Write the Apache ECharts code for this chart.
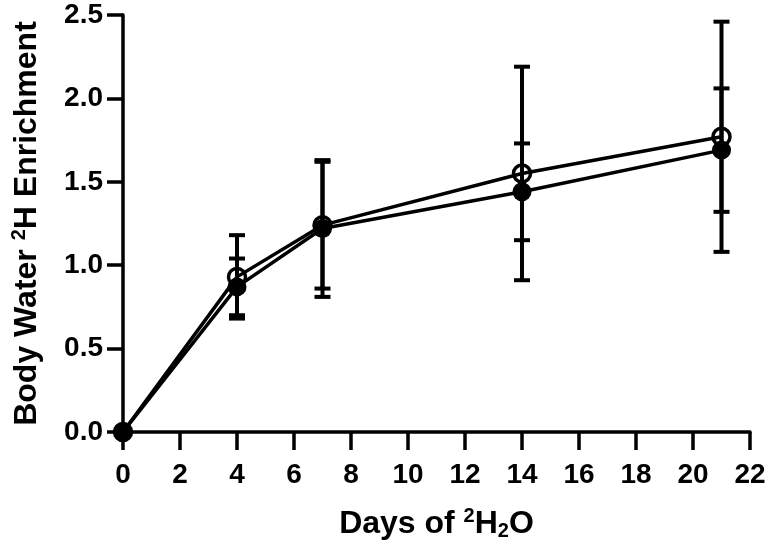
<!DOCTYPE html>
<html>
<head>
<meta charset="utf-8">
<script src="https://cdn.jsdelivr.net/npm/echarts@6/dist/echarts.min.js"></script>
<style>
  html, body { margin: 0; padding: 0; background: #fff; }
  #chart { width: 772px; height: 555px; }
</style>
</head>
<body>
<div id="chart"></div>
<script>
const days = [0, 4, 7, 14, 21]

// open circles
const openMean = [0, 0.93, 1.24, 1.55, 1.77]
const openErr = [0, 0.25, 0.38, 0.64, 0.69]

// filled circles
const filledMean = [0, 0.87, 1.22, 1.44, 1.69]
const filledErr = [0, 0.17, 0.41, 0.29, 0.37]

const xTicks = { min: 0, max: 22, interval: 2 }
const yTicks = { min: 0, max: 2.5, interval: 0.5 }

const FONT = 'Liberation Sans, Arial, sans-serif'

function toPoints(mean) {
  return days.map((d, i) => [d, mean[i]])
}
function toBars(mean, err) {
  return days.map((d, i) => [d, mean[i] - err[i], mean[i] + err[i]]).filter((b, i) => err[i] > 0)
}

function renderErrorBar(params, api) {
  const x = api.value(0)
  const lo = api.coord([x, api.value(1)])
  const hi = api.coord([x, api.value(2)])
  const half = 8
  const style = { stroke: '#000', lineWidth: 4 }
  return {
    type: 'group',
    children: [
      { type: 'line', shape: { x1: lo[0], y1: lo[1], x2: hi[0], y2: hi[1] }, style },
      { type: 'line', shape: { x1: hi[0] - half, y1: hi[1], x2: hi[0] + half, y2: hi[1] }, style },
      { type: 'line', shape: { x1: lo[0] - half, y1: lo[1], x2: lo[0] + half, y2: lo[1] }, style },
    ],
  }
}

const titleRich = {
  t: { fontFamily: FONT, fontWeight: 'bold', fontSize: 32, color: '#000' },
  sup: { fontFamily: FONT, fontWeight: 'bold', fontSize: 20, color: '#000', padding: [0, 0, 16, 0] },
  sub: { fontFamily: FONT, fontWeight: 'bold', fontSize: 20, color: '#000', padding: [14, 0, 0, 0] },
}

const chart = echarts.init(document.getElementById('chart'))
chart.setOption({
  animation: false,
  backgroundColor: '#fff',
  grid: { left: 123, right: 22, top: 15, bottom: 123 },
  xAxis: {
    type: 'value',
    ...xTicks,
    name: '{t|Days of }{sup|2}{t|H}{sub|2}{t|O}',
    nameLocation: 'middle',
    nameGap: 74,
    nameTextStyle: { rich: titleRich },
    splitLine: { show: false },
    axisLine: { lineStyle: { color: '#000', width: 3.5 } },
    axisTick: { length: 18, lineStyle: { color: '#000', width: 3.5 } },
    axisLabel: { color: '#000', fontFamily: FONT, fontWeight: 'bold', fontSize: 28, margin: 29 },
  },
  yAxis: {
    type: 'value',
    ...yTicks,
    name: '{t|Body Water }{sup|2}{t|H Enrichment}',
    nameLocation: 'middle',
    nameGap: 78,
    nameRotate: 90,
    nameTextStyle: { rich: titleRich },
    splitLine: { show: false },
    axisLine: { show: true, lineStyle: { color: '#000', width: 3.5 } },
    axisTick: { show: true, length: 16, lineStyle: { color: '#000', width: 3.5 } },
    axisLabel: {
      color: '#000', fontFamily: FONT, fontWeight: 'bold', fontSize: 28, margin: 20,
      formatter: v => v.toFixed(1),
    },
  },
  series: [
    {
      type: 'custom',
      renderItem: renderErrorBar,
      data: toBars(openMean, openErr),
      z: 1,
    },
    {
      type: 'custom',
      renderItem: renderErrorBar,
      data: toBars(filledMean, filledErr),
      z: 1,
    },
    {
      name: 'open',
      type: 'line',
      data: toPoints(openMean),
      symbol: 'circle',
      symbolSize: 17,
      lineStyle: { color: '#000', width: 3.5 },
      itemStyle: { color: 'rgba(0,0,0,0)', borderColor: '#000', borderWidth: 3.5 },
      z: 3,
    },
    {
      name: 'filled',
      type: 'line',
      data: toPoints(filledMean),
      symbol: 'circle',
      symbolSize: 19,
      lineStyle: { color: '#000', width: 3.5 },
      itemStyle: { color: '#000' },
      z: 3,
    },
  ],
})
</script>
</body>
</html>
